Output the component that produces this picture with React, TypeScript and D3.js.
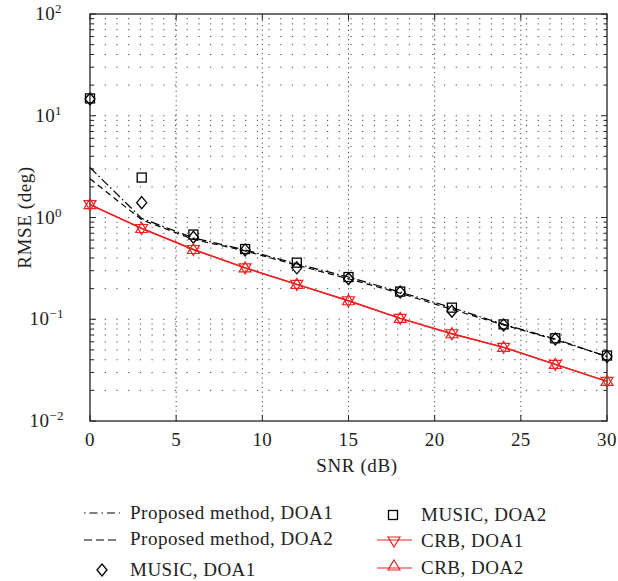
import React from 'react';
import * as d3 from 'd3';

const snr = [0, 3, 6, 9, 12, 15, 18, 21, 24, 27, 30];
const proposedDoa1 = [3.1, 0.98, 0.63, 0.48, 0.35, 0.26, 0.185, 0.13, 0.089, 0.064, 0.043];
const proposedDoa2 = [2.4, 0.95, 0.61, 0.47, 0.34, 0.25, 0.18, 0.125, 0.088, 0.063, 0.043];
const musicDoa1 = [14.6, 1.4, 0.64, 0.48, 0.32, 0.25, 0.185, 0.12, 0.088, 0.064, 0.043];
const musicDoa2 = [14.8, 2.47, 0.68, 0.49, 0.36, 0.26, 0.187, 0.13, 0.089, 0.065, 0.044];
const crbDoa1 = [1.34, 0.78, 0.485, 0.32, 0.22, 0.152, 0.102, 0.072, 0.053, 0.036, 0.0245];
const crbDoa2 = [1.34, 0.78, 0.485, 0.32, 0.22, 0.152, 0.102, 0.072, 0.053, 0.036, 0.0245];
const xTicks = [0, 5, 10, 15, 20, 25, 30];
const yDecades = [-2, -1, 0, 1, 2];

const W = 618;
const H = 581;
const margin = { left: 90, right: 11, top: 14, bottom: 160 };
const FONT = '"Liberation Serif", "DejaVu Serif", serif';

const x = d3.scaleLinear().domain([0, 30]).range([margin.left, W - margin.right]);
const y = d3.scaleLog().domain([0.01, 100]).range([H - margin.bottom, margin.top]);

// minor + major values for the log grid
const logValues: number[] = [];
for (let e = -2; e < 2; e++) {
  for (let m = 1; m < 10; m++) logValues.push(m * Math.pow(10, e));
}
logValues.push(100);

const line = (vals: number[]) =>
  d3.line<number>().x((_, i) => x(snr[i])).y(d => y(d))(vals) || '';

const Diamond = ({ cx, cy }: { cx: number; cy: number }) => (
  <path d={`M${cx},${cy - 6}L${cx + 5},${cy}L${cx},${cy + 6}L${cx - 5},${cy}Z`} fill="none" stroke="#000" strokeWidth={1.3} />
);
const Square = ({ cx, cy }: { cx: number; cy: number }) => (
  <rect x={cx - 4.5} y={cy - 4.5} width={9} height={9} fill="none" stroke="#000" strokeWidth={1.3} />
);
const Tri = ({ cx, cy, down, color }: { cx: number; cy: number; down?: boolean; color: string }) => {
  const s = down ? -1 : 1;
  return (
    <path d={`M${cx},${cy - 6 * s}L${cx + 6},${cy + 4 * s}L${cx - 6},${cy + 4 * s}Z`} fill="none" stroke={color} strokeWidth={1.2} />
  );
};

const Pow = ({ px, py, e }: { px: number; py: number; e: number }) => (
  <text x={px} y={py} fontFamily={FONT} fontSize={19} fill="#222" textAnchor="end" letterSpacing={0.4}>
    10<tspan dy={-7} fontSize={13}>{e < 0 ? `\u2212${-e}` : e}</tspan>
  </text>
);

export default function App() {
  const x0 = x(0), x1 = x(30), y0 = y(0.01), y1 = y(100);
  const red = '#ee2222';
  return (
    <svg width={W} height={H} style={{ position: 'absolute', left: 0, top: 0 }}>
      <rect width={W} height={H} fill="#fff" />
      {/* grid */}
      <g stroke="#444" strokeWidth={1} strokeDasharray="1.2,10.5">
        {logValues.filter(v => v > 0.01 && v < 100).map(v => (
          <line key={v} x1={x0 + 3} x2={x1} y1={y(v)} y2={y(v)} />
        ))}
      </g>
      <g stroke="#444" strokeWidth={1} strokeDasharray="1.2,3.5">
        {xTicks.slice(1, -1).map(t => (
          <line key={t} x1={x(t)} x2={x(t)} y1={y0} y2={y1} />
        ))}
      </g>
      {/* ticks */}
      <g stroke="#222" strokeWidth={1}>
        {logValues.map(v => {
          const len = Number.isInteger(Math.log10(v)) ? 6 : 3.5;
          return (
            <g key={v}>
              <line x1={x0} x2={x0 + len} y1={y(v)} y2={y(v)} />
              <line x1={x1} x2={x1 - len} y1={y(v)} y2={y(v)} />
            </g>
          );
        })}
        {xTicks.map(t => (
          <g key={t}>
            <line x1={x(t)} x2={x(t)} y1={y0} y2={y0 - 6} />
            <line x1={x(t)} x2={x(t)} y1={y1} y2={y1 + 6} />
          </g>
        ))}
      </g>
      <rect x={x0} y={y1} width={x1 - x0} height={y0 - y1} fill="none" stroke="#222" strokeWidth={1.3} />
      {/* tick labels */}
      {xTicks.map(t => (
        <text key={t} x={x(t)} y={y0 + 25} textAnchor="middle" fontFamily={FONT} fontSize={19} letterSpacing={0.4} fill="#222">{t}</text>
      ))}
      {yDecades.map(e => (
        <Pow key={e} px={e < 0 ? 64 : 62} py={y(Math.pow(10, e)) + 6} e={e} />
      ))}
      <text x={357} y={472} textAnchor="middle" fontFamily={FONT} fontSize={19} letterSpacing={0.6} fill="#222">SNR (dB)</text>
      <text transform={`translate(31,${y(1)}) rotate(-90)`} textAnchor="middle" fontFamily={FONT} fontSize={19} letterSpacing={0.6} fill="#222">RMSE (deg)</text>

      {/* series */}
      <path d={line(proposedDoa1)} fill="none" stroke="#000" strokeWidth={1.2} strokeDasharray="9,3,1.5,3" />
      <path d={line(proposedDoa2)} fill="none" stroke="#000" strokeWidth={1.2} strokeDasharray="6,4" />
      {musicDoa1.map((v, i) => <Diamond key={'d' + i} cx={x(snr[i])} cy={y(v)} />)}
      {musicDoa2.map((v, i) => <Square key={'s' + i} cx={x(snr[i])} cy={y(v)} />)}
      <path d={line(crbDoa1)} fill="none" stroke={red} strokeWidth={1.4} />
      <path d={line(crbDoa2)} fill="none" stroke={red} strokeWidth={1.4} />
      {crbDoa1.map((v, i) => <Tri key={'c1' + i} cx={x(snr[i])} cy={y(v)} down color={red} />)}
      {crbDoa2.map((v, i) => <Tri key={'c2' + i} cx={x(snr[i])} cy={y(v)} color={red} />)}

      {/* legend */}
      <g fontFamily={FONT} fontSize={19} letterSpacing={0.5} fill="#222">
        <line x1={84} x2={120} y1={513} y2={513} stroke="#000" strokeWidth={1.2} strokeDasharray="1.5,4,8,4" />
        <text x={130} y={519}>Proposed method, DOA1</text>
        <line x1={84} x2={120} y1={540} y2={540} stroke="#000" strokeWidth={1.2} strokeDasharray="8,4" />
        <text x={130} y={545}>Proposed method, DOA2</text>
        <Diamond cx={102} cy={570} />
        <text x={130} y={576}>MUSIC, DOA1</text>
        <Square cx={393} cy={515} />
        <text x={421} y={521}>MUSIC, DOA2</text>
        <line x1={377} x2={412} y1={540} y2={540} stroke={red} strokeWidth={1.2} />
        <Tri cx={394} cy={541} down color={red} />
        <text x={421} y={547}>CRB, DOA1</text>
        <line x1={377} x2={412} y1={568} y2={568} stroke={red} strokeWidth={1.2} />
        <Tri cx={394} cy={566} color={red} />
        <text x={421} y={574}>CRB, DOA2</text>
      </g>
    </svg>
  );
}
